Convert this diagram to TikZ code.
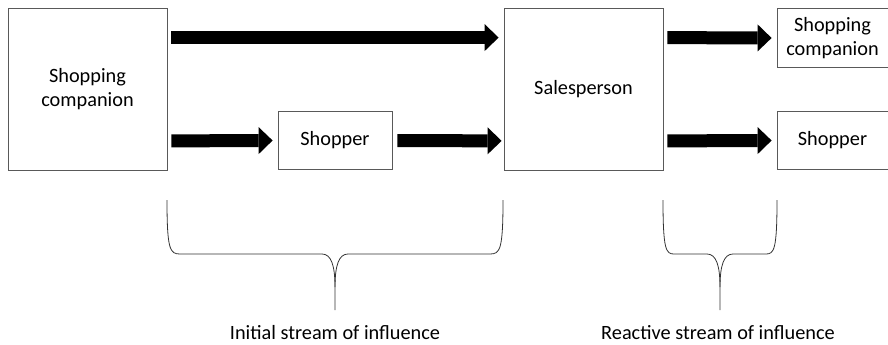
\documentclass[tikz,border=0pt]{standalone}
\usepackage{fontspec}
\setmainfont{Carlito}
\usetikzlibrary{arrows.meta}
\begin{document}
\begin{tikzpicture}[x=1pt,y=-1pt,
        box/.style={draw=black!65, line width=0.8pt, inner sep=0pt, align=center,
            font=\fontsize{20.3}{24.5}\selectfont},
        flow/.style={line width=13pt, -{Triangle[length=14pt,width=27pt,line width=0pt]}},
        brace/.style={draw=black!80, line width=0.8pt},
        label/.style={font=\fontsize{20.3}{24.5}\selectfont}]
        \useasboundingbox (0,0) rectangle (888,345);
        % nodes
        \node[box, minimum width=159pt, minimum height=162pt] (comp)   at (87.5, 89)   {Shopping\\companion};
        \node[box, minimum width=114pt, minimum height=58pt]  (shop)   at (335, 140.5) {Shopper};
        \node[box, minimum width=159pt, minimum height=162pt] (sales)  at (583.5, 89)  {Salesperson};
        \node[box, minimum width=111pt, minimum height=59pt]  (rcomp)  at (832.5, 38)  {Shopping\\companion};
        \node[box, minimum width=111pt, minimum height=58pt]  (rshop)  at (832.5, 140.5) {Shopper};
        \node[label] (initial)  at (335, 333) {Initial stream of influence};
        \node[label] (reactive) at (718, 333) {Reactive stream of influence};
        % arrows
        \draw[flow] ([shift={(4,30)}]comp.north east)     -- ([shift={(-5,30)}]sales.north west);
        \draw[flow] ([shift={(4,-29.5)}]comp.south east)  -- ([xshift=-5pt]shop.west);
        \draw[flow] ([xshift=5pt]shop.east)               -- ([shift={(-2,-29.5)}]sales.south west);
        \draw[flow] ([shift={(4,30)}]sales.north east)    -- ([xshift=-5pt]rcomp.west);
        \draw[flow] ([shift={(4,-29.5)}]sales.south east) -- ([xshift=-5pt]rshop.west);
        % braces
        \draw[brace] (167,200) .. controls (167,250) and (170,254) .. (180,254) -- (322,254)
            .. controls (331,254) and (335,265) .. (335,287) -- (335,310);
        \draw[brace] (503,200) .. controls (503,250) and (500,254) .. (490,254) -- (348,254)
            .. controls (339,254) and (335,265) .. (335,287);
        \draw[brace] (663,200) .. controls (663,250) and (666,254) .. (674,254) -- (707,254)
            .. controls (716,254) and (720,265) .. (720,287) -- (720,310);
        \draw[brace] (777,200) .. controls (777,250) and (774,254) .. (766,254) -- (733,254)
            .. controls (724,254) and (720,265) .. (720,287);
\end{tikzpicture}
\end{document}
